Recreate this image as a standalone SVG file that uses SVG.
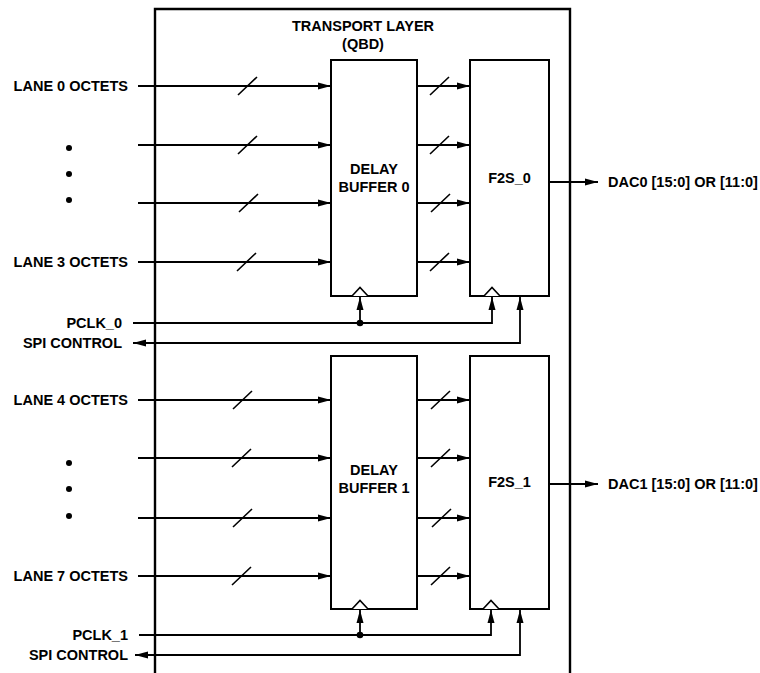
<svg xmlns="http://www.w3.org/2000/svg" width="760" height="673" viewBox="0 0 760 673">
<style>
text{font-family:"Liberation Sans",Arial,sans-serif;font-weight:bold;font-size:14.5px;fill:#000}
.box{fill:#fff;stroke:#000;stroke-width:2}
.outer{fill:none;stroke:#000;stroke-width:2.4}
.w{fill:none;stroke:#000;stroke-width:1.8}
.sl{fill:none;stroke:#000;stroke-width:1.6}
.clk{fill:#fff;stroke:#000;stroke-width:1.6}
.mid{text-anchor:middle}
.end{text-anchor:end}
</style>
<defs>
<marker id="arr" markerUnits="userSpaceOnUse" markerWidth="14" markerHeight="8" refX="13" refY="4" orient="auto-start-reverse">
<path d="M0,0.5 L13,4 L0,7.5 Z" fill="#000"/>
</marker>
</defs>

<g id="transport-layer">
<path class="outer" d="M155,673 V9 H570 V673"/>
<text class="mid" x="363" y="31">TRANSPORT LAYER</text>
<text class="mid" x="363" y="49">(QBD)</text>
</g>

<g id="delay-buffer-0">
<rect class="box" x="331" y="60" width="86" height="236"/>
<path class="clk" d="M352,296 L360,287.5 L368,296"/>
<text class="mid" x="374" y="174">DELAY</text>
<text class="mid" x="374" y="192">BUFFER 0</text>
</g>
<g id="f2s-0">
<rect class="box" x="470" y="60" width="79" height="236"/>
<path class="clk" d="M484,296 L492,287.5 L500,296"/>
<text class="mid" x="509.5" y="183">F2S_0</text>
</g>
<g id="delay-buffer-1">
<rect class="box" x="331" y="356" width="86" height="253"/>
<path class="clk" d="M352,609 L360,600.5 L368,609"/>
<text class="mid" x="374" y="475">DELAY</text>
<text class="mid" x="374" y="493">BUFFER 1</text>
</g>
<g id="f2s-1">
<rect class="box" x="470" y="356" width="79" height="253"/>
<path class="clk" d="M483,609 L491,600.5 L499,609"/>
<text class="mid" x="509.5" y="487">F2S_1</text>
</g>

<g id="inputs">
<text class="end" x="128" y="91">LANE 0 OCTETS</text>
<text class="end" x="128" y="267">LANE 3 OCTETS</text>
<text class="end" x="128" y="405">LANE 4 OCTETS</text>
<text class="end" x="128" y="581">LANE 7 OCTETS</text>
<text class="end" x="122" y="328">PCLK_0</text>
<text class="end" x="122" y="348">SPI CONTROL</text>
<text class="end" x="128" y="640">PCLK_1</text>
<text class="end" x="128" y="660">SPI CONTROL</text>
<circle cx="69" cy="148" r="3"/>
<circle cx="69" cy="174" r="3"/>
<circle cx="69" cy="200" r="3"/>
<circle cx="69" cy="463" r="3"/>
<circle cx="69" cy="489" r="3"/>
<circle cx="69" cy="516" r="3"/>
</g>

<g id="outputs">
<text x="608" y="187">DAC0 [15:0] OR [11:0]</text>
<text x="608" y="489">DAC1 [15:0] OR [11:0]</text>
</g>

<g id="connectors">
<path class="w" marker-end="url(#arr)" d="M138,86 H331"/>
<path class="w" marker-end="url(#arr)" d="M138,145 H331"/>
<path class="w" marker-end="url(#arr)" d="M138,203 H331"/>
<path class="w" marker-end="url(#arr)" d="M138,262 H331"/>
<path class="w" marker-end="url(#arr)" d="M417,86 H470"/>
<path class="w" marker-end="url(#arr)" d="M417,145 H470"/>
<path class="w" marker-end="url(#arr)" d="M417,203 H470"/>
<path class="w" marker-end="url(#arr)" d="M417,262 H470"/>
<path class="sl" d="M238,95 L257,77 M238,154 L257,136 M239,212 L258,194 M237,271 L256,253"/>
<path class="sl" d="M430,95 L449,77 M430,154 L449,136 M431,212 L450,194 M430,271 L449,253"/>
<path class="w" marker-end="url(#arr)" d="M549,182 H598"/>

<path class="w" marker-end="url(#arr)" d="M138,400 H331"/>
<path class="w" marker-end="url(#arr)" d="M138,458 H331"/>
<path class="w" marker-end="url(#arr)" d="M138,518 H331"/>
<path class="w" marker-end="url(#arr)" d="M138,576 H331"/>
<path class="w" marker-end="url(#arr)" d="M417,400 H470"/>
<path class="w" marker-end="url(#arr)" d="M417,458 H470"/>
<path class="w" marker-end="url(#arr)" d="M417,518 H470"/>
<path class="w" marker-end="url(#arr)" d="M417,576 H470"/>
<path class="sl" d="M233,409 L252,391 M232,467 L251,449 M233,527 L252,509 M232,585 L251,567"/>
<path class="sl" d="M431,409 L450,391 M431,467 L450,449 M432,527 L451,509 M431,585 L450,567"/>
<path class="w" marker-end="url(#arr)" d="M549,484 H598"/>

<path class="w" marker-end="url(#arr)" d="M133,323 H492 V297"/>
<path class="w" marker-end="url(#arr)" d="M360,323 V297"/>
<circle cx="360" cy="323" r="3.3"/>
<path class="w" marker-start="url(#arr)" marker-end="url(#arr)" d="M133,343 H520 V297"/>

<path class="w" marker-end="url(#arr)" d="M139,635 H491 V610"/>
<path class="w" marker-end="url(#arr)" d="M360,635 V610"/>
<circle cx="360" cy="635" r="3.3"/>
<path class="w" marker-start="url(#arr)" marker-end="url(#arr)" d="M135,655 H520 V610"/>
</g>
</svg>
